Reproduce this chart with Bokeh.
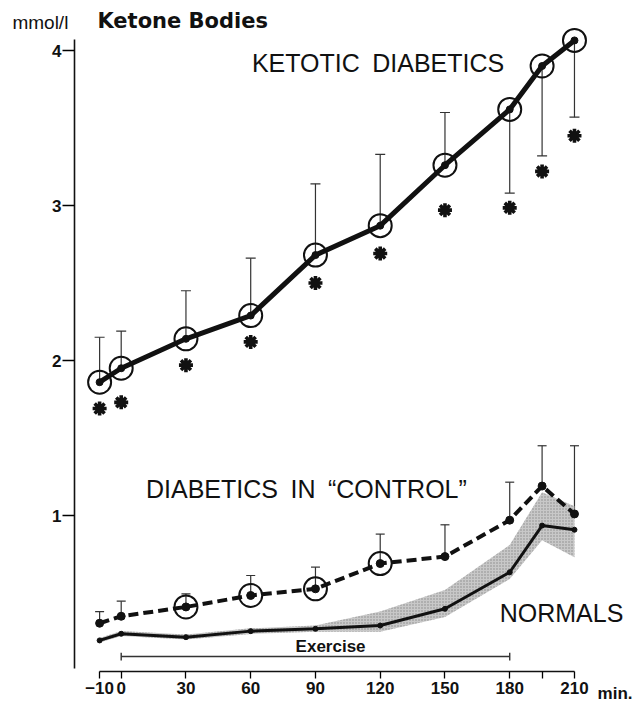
from bokeh.plotting import figure
from bokeh.models import (ColumnDataSource, LinearAxis, FixedTicker, Range1d,
                          Whisker, TeeHead, Label)
from bokeh.embed import file_html
from bokeh.resources import INLINE

# ---------------- data ----------------
times = [-10, 0, 30, 60, 90, 120, 150, 180, 195, 210]

ketotic_mean = [1.86, 1.95, 2.14, 2.29, 2.68, 2.87, 3.26, 3.62, 3.90, 4.065]
ketotic_err_end = [2.15, 2.19, 2.45, 2.66, 3.14, 3.33, 3.60, 3.08, 3.32, 3.57]
ketotic_signif_y = [1.69, 1.73, 1.97, 2.12, 2.50, 2.69, 2.97, 2.985, 3.22, 3.45]

control_mean = [0.305, 0.35, 0.41, 0.484, 0.527, 0.69, 0.735, 0.97, 1.19, 1.01]
control_err_top = [0.38, 0.447, 0.495, 0.613, 0.667, 0.88, 0.94, 1.215, 1.45, 1.45]
control_circled = [False, False, True, True, True, True, False, False, False, False]

normals_mean = [0.194, 0.237, 0.215, 0.254, 0.269, 0.29, 0.398, 0.634, 0.935, 0.908]
normals_upper = [0.21, 0.255, 0.232, 0.272, 0.29, 0.38, 0.52, 0.81, 1.15, 1.06]
normals_lower = [0.18, 0.222, 0.200, 0.236, 0.25, 0.25, 0.345, 0.59, 0.84, 0.73]

exercise_start, exercise_end, exercise_level = 0, 180, 0.09

x_ticks = [-10, 0, 30, 60, 90, 120, 150, 180, 195, 210]
y_ticks = [1, 2, 3, 4]

# ---------------- figure ----------------
W, H = 637, 705
p = figure(width=W, height=H, output_backend="svg", toolbar_location=None,
           x_axis_type=None, y_axis_type=None, min_border=0,
           x_range=Range1d(-55.92, 239.2), y_range=Range1d(-0.2258, 4.3226))
p.outline_line_color = None
p.grid.visible = False
p.background_fill_color = "white"
p.border_fill_color = "white"

INK = "#111111"
FONT = "Liberation Sans"

# axes
yax = LinearAxis(fixed_location=-21.63, bounds=(0.015, 4.07),
                 ticker=FixedTicker(ticks=y_ticks))
yax.axis_line_width = 1.6
yax.axis_line_color = INK
yax.major_tick_out = 12
yax.major_tick_in = 0
yax.major_tick_line_width = 1.5
yax.minor_tick_line_color = None
yax.major_label_text_font = FONT
yax.major_label_text_font_style = "bold"
yax.major_label_text_font_size = "17px"
yax.major_label_text_color = INK
yax.major_label_standoff = 1
p.add_layout(yax, "left")

xax = LinearAxis(fixed_location=-0.006, bounds=(-10, 210),
                 ticker=FixedTicker(ticks=x_ticks))
xax.major_label_overrides = {-10: "\u221210", 195: ""}
xax.axis_line_width = 1.4
xax.axis_line_color = INK
xax.major_tick_out = 7
xax.major_tick_in = 0
xax.major_tick_line_width = 1.3
xax.minor_tick_line_color = None
xax.major_label_text_font = FONT
xax.major_label_text_font_style = "bold"
xax.major_label_text_font_size = "17px"
xax.major_label_text_color = INK
xax.major_label_standoff = 4
p.add_layout(xax, "below")

# normals band and line
p.varea(x=times, y1=normals_lower, y2=normals_upper, fill_color="#c2c2c2",
        fill_alpha=0.9, hatch_pattern="dot", hatch_color="#8a8a8a", hatch_scale=3)
p.line(times, normals_mean, line_color=INK, line_width=3)
p.scatter(times, normals_mean, size=5, color=INK)

# control series
p.line(times, control_mean, line_color=INK, line_width=4, line_dash="10 5")
csrc = ColumnDataSource(dict(t=times, lo=control_mean, hi=control_err_top))
p.add_layout(Whisker(base="t", lower="lo", upper="hi", source=csrc,
                     line_color="#333333", line_width=1.2, lower_head=None,
                     upper_head=TeeHead(size=9, line_width=1.2, line_color="#333333")))
p.scatter(times, control_mean, size=8, color=INK)
ct = [t for t, c in zip(times, control_circled) if c]
cm = [m for m, c in zip(control_mean, control_circled) if c]
p.scatter(ct, cm, size=23, fill_color=None, line_color=INK, line_width=2)

# ketotic series
up_t, up_lo, up_hi, dn_t, dn_lo, dn_hi = [], [], [], [], [], []
for t, m, e in zip(times, ketotic_mean, ketotic_err_end):
    if e >= m:
        up_t.append(t); up_lo.append(m); up_hi.append(e)
    else:
        dn_t.append(t); dn_lo.append(e); dn_hi.append(m)
usrc = ColumnDataSource(dict(t=up_t, lo=up_lo, hi=up_hi))
dsrc = ColumnDataSource(dict(t=dn_t, lo=dn_lo, hi=dn_hi))
p.add_layout(Whisker(base="t", lower="lo", upper="hi", source=usrc,
                     line_color="#333333", line_width=1.2, lower_head=None,
                     upper_head=TeeHead(size=10, line_width=1.2, line_color="#333333")))
p.add_layout(Whisker(base="t", lower="lo", upper="hi", source=dsrc,
                     line_color="#333333", line_width=1.2, upper_head=None,
                     lower_head=TeeHead(size=10, line_width=1.2, line_color="#333333")))
p.line(times, ketotic_mean, line_color=INK, line_width=5)
p.scatter(times, ketotic_mean, size=7, color=INK)
p.scatter(times, ketotic_mean, size=23, fill_color=None, line_color=INK, line_width=2)
p.scatter(times, ketotic_signif_y, marker="asterisk", size=14, line_color=INK,
          line_width=3.6)

# exercise bar
p.segment(x0=[exercise_start], y0=[exercise_level], x1=[exercise_end],
          y1=[exercise_level], line_color="#333333", line_width=1.4)
p.segment(x0=[exercise_start, exercise_end], y0=[exercise_level - 0.025] * 2,
          x1=[exercise_start, exercise_end], y1=[exercise_level + 0.025] * 2,
          line_color="#333333", line_width=1.4)


def lab(x, y, text, size, style="normal", align="center", font=FONT):
    p.add_layout(Label(x=x, y=y, text=text, text_font=font,
                       text_font_size=size, text_font_style=style,
                       text_align=align, text_baseline="middle",
                       text_color=INK))


lab(-50.4, 4.18, "mmol/l", "19px", align="left")
lab(-11.0, 4.19, "Ketone Bodies", "21px", style="bold", align="left",
    font="DejaVu Sans")
lab(119.0, 3.92, "KETOTIC\u2002DIABETICS", "25px")
lab(85.8, 1.168, "DIABETICS\u2002IN\u2002\u201cCONTROL\u201d", "25px")
lab(204.0, 0.368, "NORMALS", "25px")
lab(97.0, 0.155, "Exercise", "17px", style="bold")
lab(220.7, -0.148, "min.", "17px", style="bold", align="left")

open("out.html", "w").write(file_html(p, INLINE))
